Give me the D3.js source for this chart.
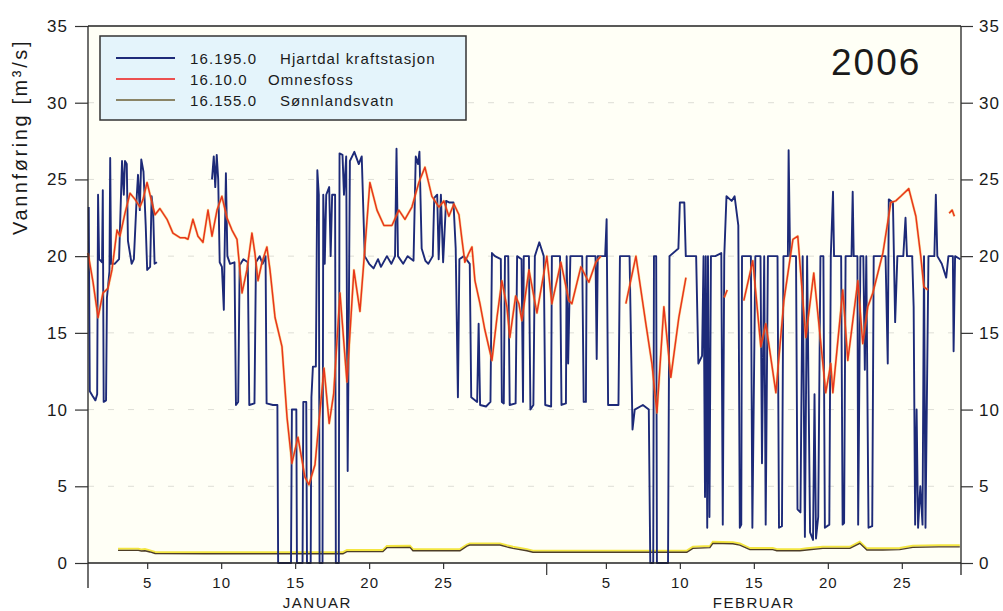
<!DOCTYPE html>
<html><head><meta charset="utf-8">
<script src="https://cdn.jsdelivr.net/npm/d3@7"></script>
<style>
body{margin:0;background:#fff;}
text{font-family:"Liberation Sans",Arial,sans-serif;fill:#1a1a1a;}
</style></head>
<body><svg id="c" width="1003" height="611"></svg>
<script>
// ---------- data (day offset from 1 Jan 2006 00:00, value m3/s) ----------
const yTicks = [0,5,10,15,20,25,30,35];
const xTickDays = ["2006-01-05","2006-01-10","2006-01-15","2006-01-20","2006-01-25",
                   "2006-02-05","2006-02-10","2006-02-15","2006-02-20","2006-02-25"];
const monthStart = ["2006-02-01"];
const months = [{name:"JANUAR", mid:"2006-01-16T12:00"},{name:"FEBRUAR", mid:"2006-02-15T00:00"}];
const seriesNames = ["16.195.0","16.10.0","16.155.0"];
const stationNames = ["Hjartdal kraftstasjon","Omnesfoss","Sønnlandsvatn"];
const yearLabel = "2006";

const hjartdal = [
[0.05,23.2],[0.12,11.2],[0.3,10.9],[0.5,10.6],[0.62,11],[0.68,24],[0.75,19.8],[0.95,19.6],[1.0,24.3],[1.06,10.5],[1.22,10.6],[1.28,17.3],[1.45,19],[1.5,26.4],[1.56,19.5],[1.8,19.5],[2.1,19.8],[2.3,26.2],[2.42,24],[2.5,26.2],[2.62,26],[2.7,21],[2.95,19.5],[3.1,19.8],[3.3,24],[3.38,25.3],[3.5,23],[3.6,26.3],[3.75,25.5],[3.9,22],[4.0,19.1],[4.2,19.3],[4.3,23.9],[4.4,23],[4.5,19.5],[4.66,19.6],
[4.7,null],
[8.38,25],[8.5,26.5],[8.6,24.5],[8.7,26.6],[8.8,25],[8.9,19.6],[9.05,19.3],[9.18,16.5],[9.22,19.5],[9.32,25.4],[9.42,20],[9.6,19.5],[9.9,19.6],[10.0,10.3],[10.15,10.5],[10.25,19.4],[10.5,19.8],[10.8,19.6],[10.9,10.3],[11.25,10.4],[11.35,19.6],[11.6,20],[11.8,19.5],[12.0,20],[12.07,10.4],[12.5,10.3],[12.8,10.3],[12.85,0],[13.72,0],[13.78,10],[14.08,10],
[14.12,0],[14.5,0],[14.55,10.5],[14.75,10.5],[14.8,0],[15.05,0],[15.1,10.8],[15.2,12.8],[15.4,12.8],[15.5,25.6],[15.6,24],[15.65,0],[15.85,0],[15.9,24],[16.0,19.5],[16.1,24],[16.3,24.5],[16.4,20],[16.5,24],[16.7,24],[16.75,0],[16.95,0],[17.0,26.7],[17.2,26.6],[17.3,24],[17.45,26.5],[17.55,6],[17.6,12.5],[17.7,26.2],[18.0,26.8],[18.3,26],[18.5,26.5],[18.7,20],[19.0,19.5],[19.3,19.2],[19.6,19.8],[19.8,19.3],[20.2,20],[20.5,19.5],[20.75,20],[20.85,27],[20.95,20],[21.3,19.5],[21.6,20],[22.0,19.7],[22.15,26.5],[22.3,26],[22.4,26.8],[22.55,20.5],[22.8,19.7],[23.0,19.5],[23.3,20],[23.4,23.8],[23.6,24],[23.7,19.8],[23.85,24],[24.0,19.6],[24.2,23.6],[24.4,23.5],[24.7,23.5],[24.85,20.5],[25.0,10.8],[25.1,19.8],[25.4,20],[25.8,19.5],[25.9,10.8],[26.3,10.5],[26.4,15.6],[26.5,10.3],[26.9,10.2],[27.2,10.5],[27.3,20.2],[27.5,20],[27.9,19.8],[27.97,10.5],[28.1,10.4],[28.18,20],[28.4,20],[28.5,10.3],[28.9,10.4],[29.0,20],[29.3,19.8],[29.4,10.5],[29.45,20],[29.8,20],[29.9,10],[30.1,10.3],[30.2,20],[30.5,20.9],[30.8,20],[30.9,10.3],[31.3,10.2],[31.35,20],[31.9,20],[32.0,10.3],[32.3,10.4],[32.35,20],[32.45,13],[32.6,20],[33.4,20],[33.5,10.5],[33.65,10.5],[33.7,20],[34.3,20],[34.38,13.3],[34.45,20],[34.95,20],[35.05,22.4],[35.15,10.3],[35.85,10.3],[35.95,20],[36.6,20],[36.8,8.7],[36.95,10],[37.5,10.3],[37.9,10],[38.0,0],[38.2,0],[38.25,20],[38.4,20],[38.45,0],[39.2,0],[39.3,20],[39.9,20.5],[40.0,23.5],[40.3,23.5],[40.4,20],[41.1,20],[41.25,13],[41.5,13.5],[41.6,20],[41.7,4.3],[41.75,20],[41.85,2.3],[41.9,20],[42.0,3],[42.1,20],[42.4,20],[42.8,20.2],[42.9,2.5],[43.0,20],[43.15,23.9],[43.5,23.6],[43.7,23.9],[43.95,22],[44.05,2.3],[44.15,2.5],[44.2,20],[44.8,20],[44.9,2.3],[45.1,20],[45.45,20],[45.55,6.5],[45.7,20],[45.8,2.5],[45.95,20],[46.6,20],[46.7,2.3],[46.9,2.4],[47.0,20],[47.3,20],[47.35,26.9],[47.45,20],[47.85,20],[47.95,3.5],[48.15,3.3],[48.3,20],[48.45,1.7],[48.6,20],[48.8,2],[49.0,1.5],[49.1,11],[49.2,1.6],[49.35,3],[49.5,20],[49.7,20],[49.8,2.3],[50.1,2.5],[50.2,20],[50.35,24.2],[50.42,20],[50.9,20],[51.0,2.5],[51.1,2.6],[51.2,20],[51.6,20],[51.68,24.2],[51.75,20],[52.0,20],[52.05,2.5],[52.2,20],[52.4,20],[52.5,12.6],[52.6,20],[52.75,2.3],[53.0,2.4],[53.1,20],[53.9,20],[54.05,13],[54.12,23.7],[54.4,23.5],[54.55,15.7],[54.7,20],[55.1,20],[55.25,22.5],[55.35,20],[55.7,20],[55.8,16.7],[55.9,2.5],[56.0,10],[56.1,2.3],[56.25,5],[56.4,2.5],[56.5,20],[56.6,2.3],[56.8,20],[57.2,20],[57.3,24],[57.4,20],[57.7,19.5],[58.0,18.6],[58.15,20],[58.45,20],[58.5,13.8],[58.6,20],[58.95,19.8]
];

const omnesfoss = [
[0,20.2],[0.34,18.3],[0.68,16],[1.01,17.6],[1.35,17.9],[1.62,19.1],[1.96,21.7],[2.16,21.3],[2.5,22.8],[2.84,24.1],[3.18,23.7],[3.51,23.2],[3.72,23.7],[3.99,24.8],[4.32,23.5],[4.53,22.7],[4.86,23.1],[5.34,22.4],[5.74,21.5],[6.22,21.2],[6.55,21.2],[6.76,21.1],[7.09,22.4],[7.43,21.3],[7.77,20.9],[8.11,23],[8.38,21.3],[8.72,23],[9.05,23.9],[9.39,22.5],[9.73,21.7],[10.07,21.1],[10.41,17.6],[10.74,19.1],[11.08,21.5],[11.28,20.2],[11.49,18.4],[11.76,19.6],[12.09,20.6],[12.3,19.1],[12.64,16],[13.11,14.1],[13.45,9.5],[13.78,6.5],[14.19,8.2],[14.66,5.6],[14.93,5.1],[15.34,6.4],[15.95,12.7],[16.3,9.1],[16.6,11],[17.03,17.6],[17.5,11.8],[17.97,19.1],[18.38,16.4],[18.72,20.6],[19.05,24.8],[19.53,23],[20,22],[20.54,22],[21.01,23],[21.42,22.4],[21.89,23.2],[22.36,24.8],[22.77,25.8],[23.24,23.9],[23.72,23.2],[24.05,23.6],[24.39,22.6],[24.73,23.4],[25.07,22.7],[25.27,21.1],[25.47,19.6],[25.74,20.2],[25.95,20.6],[26.15,18.4],[26.49,16.9],[26.82,15.2],[27.3,13.2],[27.64,16],[27.97,18.4],[28.31,16.7],[28.51,14.7],[28.9,17.4],[29.12,16.9],[29.32,15.8],[29.8,19.1],[30.34,16.3],[31.01,20],[31.35,16.9],[31.96,19.6],[32.5,17.1],[32.7,16.9],[33.31,19.3],[33.85,18.3],[34.32,19.6],[34.66,20],
[34.7,null],
[36.35,16.9],[37.03,20],[37.7,15.6],[38.11,13],[38.45,9.8],[38.92,16.7],[39.39,12.1],[39.93,16],[40.41,18.6],
[40.5,null],
[43.0,17.3],[43.2,17.8],
[43.3,null],
[44.32,17.1],[44.93,19.7],[45.47,14.1],[45.81,15.6],[46.49,11.1],[47.03,17.1],[47.64,21.1],[47.97,21.3],[48.51,14.7],[49.05,18.9],[49.86,11.1],[50.2,13],[50.34,11.1],[51.01,17.8],[51.35,13.2],[52.03,18.4],[52.36,14.3],[52.7,16.7],[53.04,17.6],[53.72,20.2],[54.26,23.5],[54.59,23.6],[54.93,23.9],[55.47,24.4],[55.95,22.6],[56.28,20],[56.49,18],[56.76,17.8],
[56.8,null],
[58.2,22.8],[58.4,23],[58.55,22.6]
];

const sonnlandsvatn = [
[2.03,0.82],[3.4,0.82],[3.6,0.78],[3.85,0.8],[4.19,0.72],[4.53,0.62],[8,0.6],[12,0.6],[17.23,0.6],[17.5,0.74],[19.93,0.74],[20.2,1.0],[21.76,1.02],[21.96,0.8],[25.14,0.8],[25.61,1.1],[25.8,1.17],[27.84,1.17],[28.3,1.05],[28.72,0.95],[29.66,0.8],[30.07,0.7],[35,0.7],[40.47,0.7],[40.88,0.95],[42.03,1.0],[42.23,1.28],[43.58,1.25],[44.05,1.17],[44.73,0.87],[46.28,0.87],[46.55,0.8],[48.11,0.8],[48.58,0.85],[49.66,0.95],[51.49,0.95],[52.16,1.28],[52.64,0.85],[53.72,0.85],[54.86,0.87],[55.74,1.02],[57.5,1.05],[58.92,1.05]
];

// ---------- drawing ----------
const svg = d3.select("#c");
const FONT = "Liberation Sans, Arial, sans-serif";
const T0 = new Date(2006,0,1);
const toDate = d => new Date(T0.getTime() + d*864e5);
const x = d3.scaleTime().domain([new Date(2006,0,1), new Date(2006,2,1)]).range([88, 961]);
const y = d3.scaleLinear().domain([0,35]).range([563, 26]);
const X0 = x.range()[0], X1 = x.range()[1], Y0 = y.range()[0], Y1 = y.range()[1];

svg.append("rect").attr("width",1003).attr("height",611).attr("fill","#fff");
svg.append("rect").attr("x",X0).attr("y",Y1).attr("width",X1-X0).attr("height",Y0-Y1).attr("fill","#fffff6");

// faint gridlines
svg.append("g").selectAll("line").data(yTicks.filter(v=>v>0&&v<35)).join("line")
  .attr("x1",X0).attr("x2",X1).attr("y1",d=>y(d)).attr("y2",d=>y(d))
  .attr("stroke","#deded6").attr("stroke-width",1).attr("stroke-dasharray","6,14");

// series
const line = d3.line().defined(d=>d[1]!==null).x(d=>x(toDate(d[0]))).y(d=>y(d[1]));
svg.append("path").datum(sonnlandsvatn).attr("d",line).attr("fill","none")
  .attr("stroke","#f4e640").attr("stroke-width",2).attr("transform","translate(0,-1.6)");
svg.append("path").datum(sonnlandsvatn).attr("d",line).attr("fill","none")
  .attr("stroke","#4e3e26").attr("stroke-width",1.4);
svg.append("path").datum(hjartdal).attr("d",line).attr("fill","none")
  .attr("stroke","#1d2a78").attr("stroke-width",1.9).attr("stroke-linejoin","round");
svg.append("path").datum(omnesfoss).attr("d",line).attr("fill","none")
  .attr("stroke","#f5b030").attr("stroke-width",2.6).attr("stroke-opacity",0.45).attr("stroke-linejoin","round");
svg.append("path").datum(omnesfoss).attr("d",line).attr("fill","none")
  .attr("stroke","#e8361c").attr("stroke-width",1.5).attr("stroke-linejoin","round");

// frame
const ax = svg.append("g").attr("stroke","#222").attr("stroke-width",1.3);
ax.append("line").attr("x1",X0).attr("x2",X1).attr("y1",Y1).attr("y2",Y1);
ax.append("line").attr("x1",X0).attr("x2",X1).attr("y1",Y0).attr("y2",Y0);
ax.append("line").attr("x1",X0).attr("x2",X0).attr("y1",Y1).attr("y2",Y0+25);
ax.append("line").attr("x1",X1).attr("x2",X1).attr("y1",Y1).attr("y2",Y0+12);

// y axes
const yl = svg.append("g").attr("transform",`translate(${X0},0)`)
  .call(d3.axisLeft(y).tickValues(yTicks).tickSize(13).tickPadding(7));
const yr = svg.append("g").attr("transform",`translate(${X1},0)`)
  .call(d3.axisRight(y).tickValues(yTicks).tickSize(12).tickPadding(6));
[yl,yr].forEach(g=>{
  g.select(".domain").remove();
  g.selectAll(".tick line").attr("stroke","#333").attr("stroke-width",1.2);
  g.selectAll(".tick text").attr("font-size",17).attr("letter-spacing",1).attr("font-family",FONT).attr("fill","#1a1a1a");
});

// x axis
const xa = svg.append("g").attr("transform",`translate(0,${Y0})`)
  .call(d3.axisBottom(x).tickValues(xTickDays.map(s=>new Date(s+"T00:00"))).tickSize(6).tickPadding(8)
    .tickFormat(d=>d.getDate()));
xa.select(".domain").remove();
xa.selectAll(".tick line").attr("stroke","#333").attr("stroke-width",1.2);
xa.selectAll(".tick text").attr("font-size",15).attr("letter-spacing",1).attr("font-family",FONT).attr("fill","#1a1a1a");
svg.append("g").selectAll("line").data(monthStart).join("line")
  .attr("x1",d=>x(new Date(d+"T00:00"))).attr("x2",d=>x(new Date(d+"T00:00")))
  .attr("y1",Y0).attr("y2",Y0+12).attr("stroke","#333").attr("stroke-width",1.2);
svg.append("g").selectAll("text").data(months).join("text")
  .attr("x",d=>x(new Date(d.mid))).attr("y",608).attr("text-anchor","middle")
  .attr("font-size",15).attr("letter-spacing",1.5).text(d=>d.name);

// y title
svg.append("text").attr("transform","translate(27,137) rotate(-90)").attr("text-anchor","middle")
  .attr("font-size",20).attr("letter-spacing",2.6).text("Vannføring [m³/s]");

// year
svg.append("text").attr("x",831).attr("y",75).attr("font-size",37).attr("letter-spacing",2).text(yearLabel);

// legend
const lg = svg.append("g");
lg.append("rect").attr("x",100).attr("y",36).attr("width",366).attr("height",84)
  .attr("fill","#e4f4fb").attr("stroke","#333").attr("stroke-width",1.5);
const legColors = ["#1d2a78","#ec5050","#8a8466"];
const legNameX = [280,268,280];
seriesNames.forEach((s,i)=>{
  const yy = 58 + i*21;
  lg.append("line").attr("x1",116).attr("x2",175).attr("y1",yy).attr("y2",yy)
    .attr("stroke",legColors[i]).attr("stroke-width",1.8);
  lg.append("text").attr("x",190).attr("y",yy+5.5).attr("font-size",15).attr("letter-spacing",1.1).text(s);
  lg.append("text").attr("x",legNameX[i]).attr("y",yy+5.5).attr("font-size",15).attr("letter-spacing",1.1).text(stationNames[i]);
});
</script></body></html>
